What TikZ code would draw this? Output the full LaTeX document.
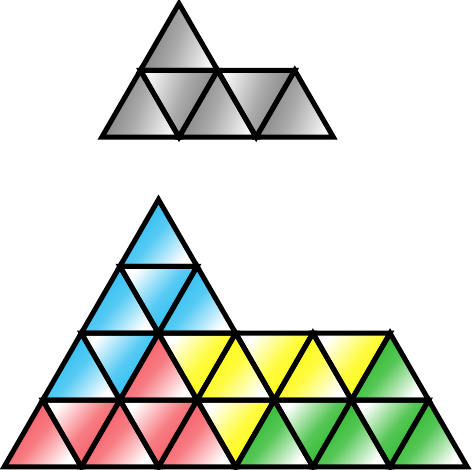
\documentclass[tikz,border=0pt]{standalone}
\usetikzlibrary{calc}
\definecolor{cblue}{RGB}{30,185,240}
\definecolor{cred}{RGB}{245,80,90}
\definecolor{cyel}{RGB}{255,250,0}
\definecolor{cgreen}{RGB}{30,180,30}
\definecolor{cgrayd}{RGB}{120,120,120}
\definecolor{cgrayl}{RGB}{245,245,245}
\tikzset{
  edge/.style={draw=black, line width=0.1cm, line join=miter},
  upfill/.style={top color=#1, bottom color=white, middle color=#1!75!white, shading angle=50},
  dnfill/.style={top color=white, bottom color=#1, middle color=#1!75!white, shading angle=50},
  gupfill/.style={top color=cgrayd, bottom color=cgrayl, middle color=cgrayd!60!cgrayl, shading angle=70},
  gdnfill/.style={top color=cgrayl, bottom color=cgrayd, middle color=cgrayd!60!cgrayl, shading angle=70},
}
% up triangle with apex at lattice (#1,#2)
\newcommand\upT[3]{\shade[#3] (#1,#2) -- ({#1-1},{#2+1}) -- ({#1+1},{#2+1}) -- cycle;}
% down triangle with bottom vertex at lattice (#1,#2)
\newcommand\dnT[3]{\shade[#3] (#1,#2) -- ({#1-1},{#2-1}) -- ({#1+1},{#2-1}) -- cycle;}
\newcommand\upE[2]{\draw[edge] (#1,#2) -- ({#1-1},{#2+1}) -- ({#1+1},{#2+1}) -- cycle;}
\newcommand\dnE[2]{\draw[edge] (#1,#2) -- ({#1-1},{#2-1}) -- ({#1+1},{#2-1}) -- cycle;}
\begin{document}
\begin{tikzpicture}[x=0.02cm, y=-0.02cm]
\useasboundingbox (0,0) rectangle (474,470);
% top gray shape
\begin{scope}[shift={(179,3.5)}]
\begin{scope}[x=0.772cm, y=-1.337cm]
  \upT{0}{0}{gupfill}
  \upT{-1}{1}{gupfill}
  \dnT{0}{2}{gdnfill}
  \upT{1}{1}{gupfill}
  \dnT{2}{2}{gdnfill}
  \upT{3}{1}{gupfill}
  \upE{0}{0}
  \upE{-1}{1}
  \dnE{0}{2}
  \upE{1}{1}
  \dnE{2}{2}
  \upE{3}{1}
\end{scope}
\end{scope}
% bottom coloured shape
\begin{scope}[shift={(158.5,199.5)}]
\begin{scope}[x=0.772cm, y=-1.337cm]
  % row 1
  \upT{0}{0}{upfill=cblue}
  % row 2
  \upT{-1}{1}{upfill=cblue}
  \dnT{0}{2}{dnfill=cblue}
  \upT{1}{1}{upfill=cblue}
  % row 3
  \upT{-2}{2}{upfill=cblue}
  \dnT{-1}{3}{dnfill=cblue}
  \upT{0}{2}{upfill=cred}
  \dnT{1}{3}{dnfill=cyel}
  \upT{2}{2}{upfill=cyel}
  \dnT{3}{3}{dnfill=cyel}
  \upT{4}{2}{upfill=cyel}
  \dnT{5}{3}{dnfill=cyel}
  \upT{6}{2}{upfill=cgreen}
  % row 4
  \upT{-3}{3}{upfill=cred}
  \dnT{-2}{4}{dnfill=cred}
  \upT{-1}{3}{upfill=cred}
  \dnT{0}{4}{dnfill=cred}
  \upT{1}{3}{upfill=cred}
  \dnT{2}{4}{dnfill=cyel}
  \upT{3}{3}{upfill=cgreen}
  \dnT{4}{4}{dnfill=cgreen}
  \upT{5}{3}{upfill=cgreen}
  \dnT{6}{4}{dnfill=cgreen}
  \upT{7}{3}{upfill=cgreen}
  % edges
  \upE{0}{0}
  \upE{-1}{1} \dnE{0}{2} \upE{1}{1}
  \upE{-2}{2} \dnE{-1}{3} \upE{0}{2} \dnE{1}{3} \upE{2}{2} \dnE{3}{3} \upE{4}{2} \dnE{5}{3} \upE{6}{2}
  \upE{-3}{3} \dnE{-2}{4} \upE{-1}{3} \dnE{0}{4} \upE{1}{3} \dnE{2}{4} \upE{3}{3} \dnE{4}{4} \upE{5}{3} \dnE{6}{4} \upE{7}{3}
\end{scope}
\end{scope}
\end{tikzpicture}
\end{document}
